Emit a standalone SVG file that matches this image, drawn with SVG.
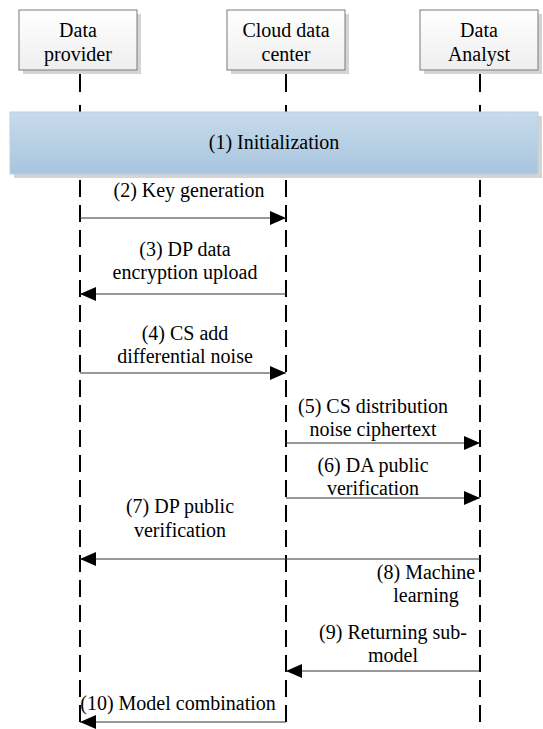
<svg xmlns="http://www.w3.org/2000/svg" width="543" height="729" viewBox="0 0 543 729">
<defs>
<linearGradient id="boxg" x1="0" y1="0" x2="0" y2="1"><stop offset="0" stop-color="#ffffff"/><stop offset="1" stop-color="#eeeeee"/></linearGradient>
<linearGradient id="bandg" x1="0" y1="0" x2="0" y2="1"><stop offset="0" stop-color="#c7dbeb"/><stop offset="1" stop-color="#a8c5de"/></linearGradient>
<marker id="ah" viewBox="0 0 16 14" refX="16" refY="7" markerWidth="16" markerHeight="14" markerUnits="userSpaceOnUse" orient="auto"><path d="M0,0 L16,7 L0,14 z" fill="#000"/></marker>
</defs>
<style>
text{font-family:"Liberation Serif","DejaVu Serif",serif;font-size:20px;fill:#000;text-anchor:middle}
.box{fill:url(#boxg);stroke:#7a7a7a;stroke-width:1}
.shadow{fill:#d4d4d4}
.life{stroke:#000;stroke-width:2;fill:none}
.dash{stroke:#000;stroke-width:2;stroke-dasharray:17 8;fill:none}
.msg{stroke:#333;stroke-width:1.2;fill:none;marker-end:url(#ah)}
</style>
<rect width="543" height="729" fill="#fff"/>
<g id="lifelines">
<line class="life" x1="80" y1="70" x2="80" y2="92"/>
<line class="life" x1="286" y1="70" x2="286" y2="92"/>
<line class="life" x1="480" y1="70" x2="480" y2="92"/>
<line class="dash" x1="80" y1="105" x2="80" y2="729"/>
<line class="dash" x1="286" y1="105" x2="286" y2="729"/>
<line class="dash" x1="480" y1="105" x2="480" y2="729"/>
</g>
<g id="node-dp">
<rect class="shadow" x="23" y="14" width="118" height="60"/>
<rect class="box" x="19" y="10" width="118" height="60"/>
<text x="78" y="37">Data</text>
<text x="78" y="61">provider</text>
</g>
<g id="node-cloud">
<rect class="shadow" x="231" y="14" width="118" height="60"/>
<rect class="box" x="227" y="10" width="118" height="60"/>
<text x="286" y="37">Cloud data</text>
<text x="286" y="61">center</text>
</g>
<g id="node-da">
<rect class="shadow" x="424" y="14" width="118" height="60"/>
<rect class="box" x="420" y="10" width="118" height="60"/>
<text x="479" y="37">Data</text>
<text x="479" y="61">Analyst</text>
</g>
<g id="node-init">
<rect class="shadow" x="14" y="116" width="528" height="62"/>
<rect x="10" y="112" width="528" height="62" fill="url(#bandg)" stroke="#bcd0e4" stroke-width="1"/>
<text x="274" y="149">(1) Initialization</text>
</g>
<g id="connectors">
<line class="msg" x1="80" y1="218" x2="286" y2="218"/>
<line class="msg" x1="286" y1="294" x2="80" y2="294"/>
<line class="msg" x1="80" y1="373" x2="286" y2="373"/>
<line class="msg" x1="286" y1="443" x2="480" y2="443"/>
<line class="msg" x1="286" y1="498" x2="480" y2="498"/>
<line class="msg" x1="480" y1="559" x2="80" y2="559"/>
<line class="msg" x1="480" y1="671" x2="286" y2="671"/>
<line class="msg" x1="286" y1="722" x2="80" y2="722"/>
</g>
<g id="labels">
<text x="189" y="197">(2) Key generation</text>
<text x="185" y="256">(3) DP data</text>
<text x="185" y="279">encryption upload</text>
<text x="185" y="340">(4) CS add</text>
<text x="185" y="363">differential noise</text>
<text x="373" y="413">(5) CS distribution</text>
<text x="373" y="436">noise ciphertext</text>
<text x="373" y="472">(6) DA public</text>
<text x="373" y="495">verification</text>
<text x="180" y="513">(7) DP public</text>
<text x="180" y="537">verification</text>
<text x="426" y="579">(8) Machine</text>
<text x="426" y="602">learning</text>
<text x="393" y="639">(9) Returning sub-</text>
<text x="393" y="662">model</text>
<text x="178" y="710">(10) Model combination</text>
</g>
</svg>
